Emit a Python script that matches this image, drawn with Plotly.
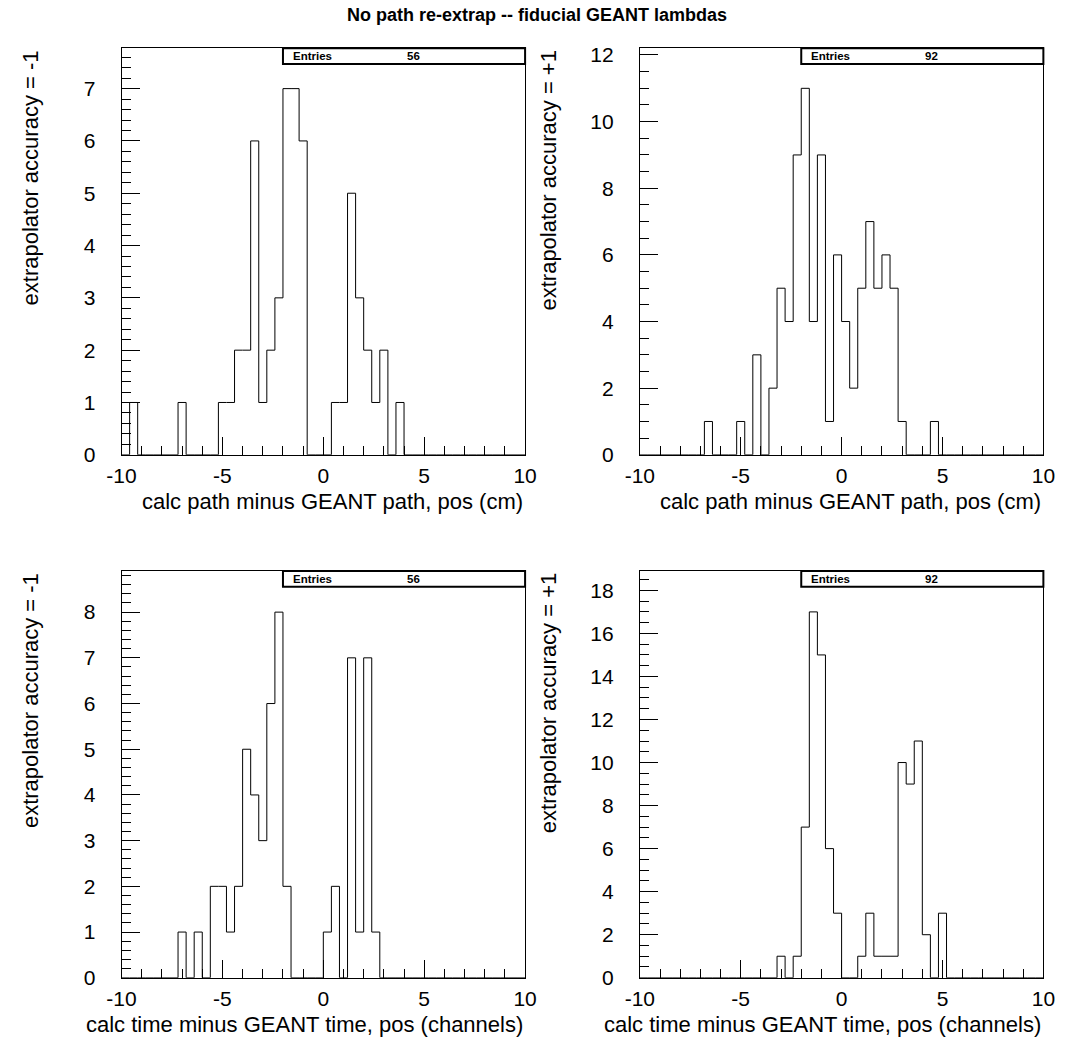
import numpy as np
import plotly.graph_objects as go

W, H = 1070, 1057

# Histogram binning: 50 bins of 0.4 between -10 and 10
x_lo, x_hi, n_bins = -10.0, 10.0, 50
edges = np.linspace(x_lo, x_hi, n_bins + 1)

# Bin contents
path_acc_minus = [0, 1, 0, 0, 0, 0, 0, 1, 0, 0,
                  0, 0, 1, 1, 2, 2, 6, 1, 2, 3,
                  7, 7, 6, 0, 0, 0, 1, 1, 5, 3,
                  2, 1, 2, 0, 1, 0, 0, 0, 0, 0,
                  0, 0, 0, 0, 0, 0, 0, 0, 0, 0]
path_acc_plus = [0, 0, 0, 0, 0, 0, 0, 0, 1, 0,
                 0, 0, 1, 0, 3, 0, 2, 5, 4, 9,
                 11, 4, 9, 1, 6, 4, 2, 5, 7, 5,
                 6, 5, 1, 0, 0, 0, 1, 0, 0, 0,
                 0, 0, 0, 0, 0, 0, 0, 0, 0, 0]
time_acc_minus = [0, 0, 0, 0, 0, 0, 0, 1, 0, 1,
                  0, 2, 2, 1, 2, 5, 4, 3, 6, 8,
                  2, 0, 0, 0, 0, 1, 2, 0, 7, 1,
                  7, 1, 0, 0, 0, 0, 0, 0, 0, 0,
                  0, 0, 0, 0, 0, 0, 0, 0, 0, 0]
time_acc_plus = [0, 0, 0, 0, 0, 0, 0, 0, 0, 0,
                 0, 0, 0, 0, 0, 0, 0, 1, 0, 1,
                 7, 17, 15, 6, 3, 0, 0, 1, 3, 1,
                 1, 1, 10, 9, 11, 2, 0, 3, 0, 0,
                 0, 0, 0, 0, 0, 0, 0, 0, 0, 0]

# x tick labels written with a plain hyphen-minus
x_tick_vals = [-10, -5, 0, 5, 10]
x_tick_text = ["-10", "-5", "0", "5", "10"]

title_text = "No path re-extrap -- fiducial GEANT lambdas"
x_titles = ["calc path minus GEANT path, pos (cm)",
            "calc path minus GEANT path, pos (cm)",
            "calc time minus GEANT time, pos (channels)",
            "calc time minus GEANT time, pos (channels)"]
y_titles = ["extrapolator accuracy = -1", "extrapolator accuracy = +1",
            "extrapolator accuracy = -1", "extrapolator accuracy = +1"]
y_max = [7.77, 12.2, 8.9, 18.9]
y_major = [1, 2, 1, 2]
y_minor = [0.2, 0.5, 0.2, 0.5]

series = [path_acc_minus, path_acc_plus, time_acc_minus, time_acc_plus]

FONT = "Liberation Sans, Arial, Helvetica, sans-serif"


def fx(p):
    return p / W


def fy(p):
    return 1 - p / H


# frame boxes in pixels: (left, right, top, bottom)
frames = [(109.3, 523.3, 44.0, 456.7), (641.0, 1055.0, 44.0, 456.7),
          (109.3, 523.3, 574.7, 987.7), (641.0, 1055.0, 574.7, 987.7)]
ytitle_x = [16, 547, 16, 547]

fig = go.Figure()
annotations = []
shapes = []

for i, counts in enumerate(series):
    n = i + 1
    xa = "x" if n == 1 else f"x{n}"
    ya = "y" if n == 1 else f"y{n}"
    left, right, top, bottom = frames[i]

    fig.add_trace(go.Scatter(
        x=edges, y=list(counts) + [counts[-1]],
        mode="lines", line=dict(color="black", width=1, shape="hv"),
        xaxis=xa, yaxis=ya, hoverinfo="skip"))

    axis_common = dict(
        showgrid=False, zeroline=False, showline=True, mirror=True,
        linecolor="black", linewidth=1, ticks="inside", ticklen=18,
        tickwidth=1, tickcolor="black",
        tickfont=dict(family=FONT, size=21, color="black"),
    )
    y_vals = list(np.arange(0, y_max[i], y_major[i]))
    fig.layout[f"xaxis{'' if n == 1 else n}"] = dict(
        axis_common, domain=[fx(left), fx(right)], anchor=ya,
        range=[x_lo, x_hi], tickmode="array", tickvals=x_tick_vals,
        ticktext=x_tick_text, ticklabelstandoff=2,
        minor=dict(dtick=1, tick0=-10, ticklen=9, ticks="inside",
                   tickcolor="black", tickwidth=1, showgrid=False))
    fig.layout[f"yaxis{'' if n == 1 else n}"] = dict(
        axis_common, domain=[fy(bottom), fy(top)], anchor=xa,
        range=[0, y_max[i]], tickmode="array", tickvals=y_vals,
        ticktext=[f"{v:g}" for v in y_vals], ticklabelstandoff=21,
        minor=dict(dtick=y_minor[i], tick0=0, ticklen=9, ticks="inside",
                   tickcolor="black", tickwidth=1, showgrid=False))

    # statistics box
    box_h = 16 / (bottom - top)
    shapes.append(dict(type="rect", xref=f"{xa} domain", yref=f"{ya} domain",
                       x0=0.4, x1=1.0, y0=1 - box_h, y1=1.0,
                       line=dict(color="black", width=2), fillcolor="white"))
    annotations.append(dict(text="<b>Entries</b>", xref=f"{xa} domain",
                            yref=f"{ya} domain", x=0.42, y=1 - box_h / 2,
                            xanchor="left", yanchor="middle", showarrow=False,
                            font=dict(family=FONT, size=11.5, color="black")))
    annotations.append(dict(text=f"<b>{int(sum(counts))}</b>",
                            xref=f"{xa} domain", yref=f"{ya} domain",
                            x=0.724, y=1 - box_h / 2, xanchor="center",
                            yanchor="middle", showarrow=False,
                            font=dict(family=FONT, size=11.5, color="black")))

    # axis titles, aligned to the axis ends
    annotations.append(dict(text=x_titles[i], xref="paper", yref="paper",
                            x=fx(right), y=fy(bottom + 47), xanchor="right",
                            yanchor="middle", showarrow=False,
                            font=dict(family=FONT, size=22, color="black")))
    annotations.append(dict(text=y_titles[i], xref="paper", yref="paper",
                            x=fx(ytitle_x[i]), y=fy(top), xanchor="center",
                            yanchor="top", textangle=-90, showarrow=False,
                            font=dict(family=FONT, size=22, color="black")))

annotations.append(dict(text=f"<b>{title_text}</b>", xref="paper", yref="paper",
                        x=0.5, y=fy(10), xanchor="center", yanchor="middle",
                        showarrow=False,
                        font=dict(family=FONT, size=18, color="black")))

fig.update_layout(
    width=W, height=H, margin=dict(l=0, r=0, t=0, b=0),
    paper_bgcolor="white", plot_bgcolor="white", showlegend=False,
    annotations=annotations, shapes=shapes,
)

fig.write_html("out.html")
